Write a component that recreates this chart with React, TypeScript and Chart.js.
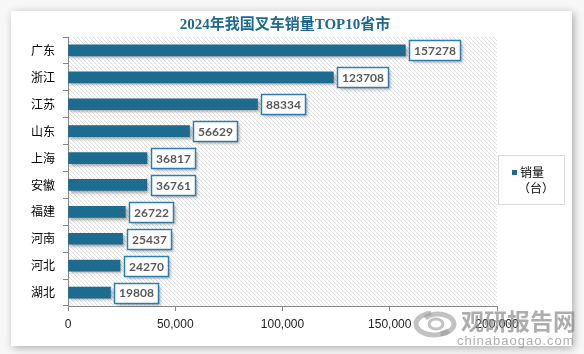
import React, { useEffect, useRef } from "react";
import { Chart, registerables } from "chart.js";

Chart.register(...registerables);

const categories = ["广东", "浙江", "江苏", "山东", "上海", "安徽", "福建", "河南", "河北", "湖北"];
const salesValues = [157278, 123708, 88334, 56629, 36817, 36761, 26722, 25437, 24270, 19808];
const xTicks = [0, 50000, 100000, 150000, 200000];
const titleText = "2024年我国叉车销量TOP10省市";
const seriesName = "销量";
const seriesUnit = "（台）";

const BAR_COLOR = "#1d6b8f";

function makeHatch(ctx: CanvasRenderingContext2D) {
  const s = 4;
  const c = document.createElement("canvas");
  c.width = s;
  c.height = s;
  const g = c.getContext("2d")!;
  g.fillStyle = "#ffffff";
  g.fillRect(0, 0, s, s);
  g.strokeStyle = "#dedede";
  g.lineWidth = 1;
  for (let k = -1; k <= 1; k++) {
    g.beginPath();
    g.moveTo(k * s, 0);
    g.lineTo(k * s + s, s);
    g.stroke();
  }
  return ctx.createPattern(c, "repeat")!;
}

const decorPlugin = {
  id: "decor",
  beforeDraw(chart: any) {
    const { ctx, chartArea } = chart;
    ctx.save();
    ctx.fillStyle = makeHatch(ctx);
    ctx.fillRect(chartArea.left, chartArea.top, chartArea.right - chartArea.left, chartArea.bottom - chartArea.top);
    ctx.restore();
  },
  beforeDatasetsDraw(chart: any) {
    const ctx = chart.ctx;
    ctx.save();
    ctx.shadowColor = "rgba(0,0,0,0.35)";
    ctx.shadowOffsetX = 2;
    ctx.shadowOffsetY = 2;
    ctx.shadowBlur = 3;
  },
  afterDatasetsDraw(chart: any) {
    const ctx = chart.ctx;
    ctx.restore();
    const meta = chart.getDatasetMeta(0);
    const data = chart.data.datasets[0].data as number[];
    ctx.save();
    ctx.font = "bold 12px Lato, 'Liberation Sans', sans-serif";
    meta.data.forEach((bar: any, i: number) => {
      const txt = String(data[i]);
      const tw = ctx.measureText(txt).width;
      const w = Math.round(tw + 9);
      const h = 20;
      const x = Math.round(bar.x + 4) + 0.5;
      const y = Math.round(bar.y - h / 2) + 0.5;
      ctx.save();
      ctx.shadowColor = "rgba(0,0,0,0.3)";
      ctx.shadowOffsetX = 2;
      ctx.shadowOffsetY = 2;
      ctx.shadowBlur = 3;
      ctx.fillStyle = "#ffffff";
      ctx.fillRect(x, y, w, h);
      ctx.restore();
      ctx.strokeStyle = "#2b7db3";
      ctx.lineWidth = 1.5;
      ctx.strokeRect(x, y, w, h);
      ctx.fillStyle = "#595959";
      ctx.textAlign = "center";
      ctx.textBaseline = "middle";
      ctx.fillText(txt, x + w / 2, bar.y + 1);
    });
    ctx.restore();
  },
  afterDraw(chart: any) {
    const ctx = chart.ctx;
    ctx.save();
    // title
    ctx.font = "bold 15px 'Liberation Serif', 'Noto Sans CJK SC', serif";
    ctx.fillStyle = "#1d6a8e";
    ctx.textAlign = "center";
    ctx.textBaseline = "middle";
    ctx.fillText(titleText, 285, 25);
    // legend
    ctx.fillStyle = "#ffffff";
    ctx.fillRect(498.5, 155.5, 66, 49);
    ctx.strokeStyle = "#d9d9d9";
    ctx.lineWidth = 1;
    ctx.strokeRect(498.5, 155.5, 66, 49);
    ctx.fillStyle = BAR_COLOR;
    ctx.fillRect(512, 170, 5, 5);
    ctx.fillStyle = "#000000";
    ctx.font = "12px 'Noto Sans CJK SC', sans-serif";
    ctx.textAlign = "left";
    ctx.fillText(seriesName, 520, 172);
    ctx.fillText(seriesUnit, 518, 188);
    // watermark
    ctx.globalAlpha = 0.6;
    ctx.strokeStyle = "#9a9a9a";
    ctx.lineWidth = 5;
    ctx.beginPath();
    ctx.ellipse(434, 324, 18, 11, 0, Math.PI * 0.2, Math.PI * 1.45);
    ctx.stroke();
    ctx.beginPath();
    ctx.ellipse(438, 324, 16, 10, 0, Math.PI * 1.2, Math.PI * 2.45);
    ctx.stroke();
    ctx.lineWidth = 3;
    ctx.beginPath();
    ctx.ellipse(436, 324, 7, 5, 0, 0, Math.PI * 2);
    ctx.stroke();
    ctx.globalAlpha = 0.7;
    ctx.fillStyle = "#8a8a8a";
    ctx.font = "bold 23px 'Noto Sans CJK SC', sans-serif";
    ctx.textAlign = "left";
    ctx.textBaseline = "middle";
    ctx.fillText("观研报告网", 461, 321);
    ctx.font = "13px 'Liberation Sans', sans-serif";
    (ctx as any).letterSpacing = "1px";
    ctx.fillText("chinabaogao.com", 457, 341);
    ctx.restore();
  },
};

export default function App() {
  const ref = useRef<HTMLCanvasElement | null>(null);
  useEffect(() => {
    document.body.style.margin = "0";
    const chart = new Chart(ref.current!, {
      type: "bar",
      data: {
        labels: categories,
        datasets: [
          {
            label: seriesName,
            data: salesValues,
            backgroundColor: BAR_COLOR,
            barThickness: 11,
          },
        ],
      },
      options: {
        indexAxis: "y",
        animation: false,
        responsive: false,
        layout: { padding: { top: 37, right: 87, bottom: 0, left: 0 } },
        plugins: { legend: { display: false }, title: { display: false }, tooltip: { enabled: false } },
        scales: {
          y: {
            afterFit(scale: any) {
              scale.width = 68;
            },
            grid: { drawOnChartArea: false, drawTicks: true, tickLength: 5, color: "#868686", offset: true },
            border: { display: true, color: "#868686" },
            ticks: { color: "#000000", font: { size: 12, family: "'Noto Sans CJK SC', sans-serif" }, padding: 8 },
          },
          x: {
            min: 0,
            max: 200000,
            afterFit(scale: any) {
              scale.height = 48;
            },
            afterBuildTicks(scale: any) {
              scale.ticks = xTicks.map((v) => ({ value: v }));
            },
            grid: { drawOnChartArea: false, drawTicks: true, tickLength: 5, color: "#868686" },
            border: { display: true, color: "#868686" },
            ticks: {
              color: "#222222",
              font: { size: 12, family: "'Liberation Sans', sans-serif" },
              padding: 6,
              maxRotation: 0,
              callback: (v: any) => Number(v).toLocaleString("en-US"),
            },
          },
        },
      },
      plugins: [decorPlugin],
    } as any);
    return () => chart.destroy();
  }, []);
  return (
    <div style={{ position: "relative", width: 584, height: 354, background: "#f7f7f7", overflow: "hidden" }}>
      <div
        style={{
          position: "absolute",
          left: 11,
          top: 11,
          width: 561,
          height: 335,
          background: "#ffffff",
          boxShadow: "2px 2px 8px rgba(0,0,0,0.3)",
        }}
      />
      <canvas ref={ref} width={584} height={354} style={{ position: "absolute", left: 0, top: 0 }} />
    </div>
  );
}
